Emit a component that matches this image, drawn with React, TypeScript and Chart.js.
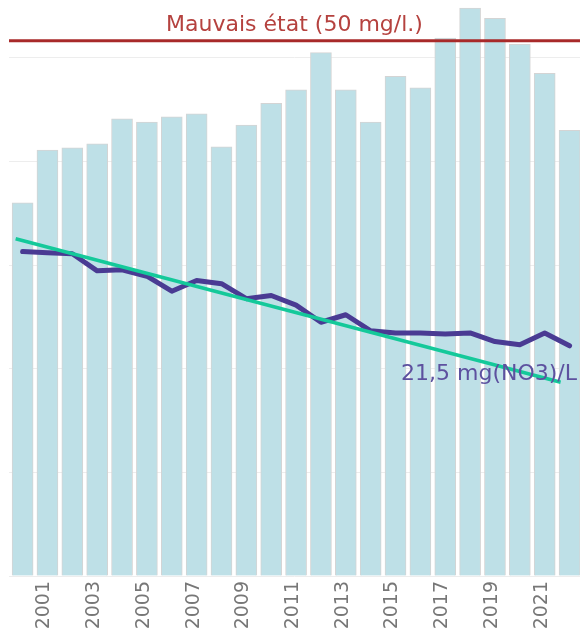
import React, { useEffect, useRef } from "react";
import { Chart, registerables } from "chart.js";

Chart.register(...registerables);

const years = [2000, 2001, 2002, 2003, 2004, 2005, 2006, 2007, 2008, 2009, 2010, 2011, 2012, 2013, 2014, 2015, 2016, 2017, 2018, 2019, 2020, 2021, 2022];
const barValues = [36.0, 41.1, 41.3, 41.7, 44.1, 43.8, 44.3, 44.6, 41.4, 43.5, 45.6, 46.9, 50.5, 46.9, 43.8, 48.2, 47.1, 51.9, 54.8, 53.8, 51.3, 48.5, 43.0];
const nitrateValues = [30.3, 30.2, 30.1, 28.5, 28.6, 28.0, 26.6, 27.6, 27.3, 25.9, 26.2, 25.3, 23.7, 24.4, 22.9, 22.7, 22.7, 22.6, 22.7, 21.9, 21.6, 22.7, 21.5];
const trendYears = [1999.72, 2021.64];
const trendValues = [31.5, 18.1];
const tickYears = [2001, 2003, 2005, 2007, 2009, 2011, 2013, 2015, 2017, 2019, 2021];
const gridTicks = [0, 10, 20, 30, 40, 50];
const thresholdValue = 50;
const thresholdLabel = "Mauvais état (50 mg/l.)";
const lastValueLabel = "21,5 mg(NO3)/L";

const FONT = "'DejaVu Sans', sans-serif";

const annotationPlugin = {
  id: "annotations",
  afterDatasetsDraw(chart: any) {
    const { ctx, chartArea, scales } = chart;
    const yLine = scales.yLine;
    const yPix = yLine.getPixelForValue(thresholdValue);
    ctx.save();
    ctx.strokeStyle = "#a82a2a";
    ctx.lineWidth = 3;
    ctx.beginPath();
    ctx.moveTo(chartArea.left, yPix);
    ctx.lineTo(chartArea.right, yPix);
    ctx.stroke();
    ctx.fillStyle = "#b5423f";
    ctx.font = "22px " + FONT;
    ctx.textAlign = "center";
    ctx.textBaseline = "alphabetic";
    ctx.fillText(thresholdLabel, (chartArea.left + chartArea.right) / 2, yPix - 10);

    const lastPix = yLine.getPixelForValue(nitrateValues[nitrateValues.length - 1]);
    ctx.fillStyle = "#5d519f";
    ctx.font = "22px " + FONT;
    ctx.textAlign = "right";
    ctx.fillText(lastValueLabel, chartArea.right - 3, lastPix + 34);
    ctx.restore();
  },
};

export default function App() {
  const canvasRef = useRef<HTMLCanvasElement | null>(null);

  useEffect(() => {
    if (!canvasRef.current) return;
    const chart = new Chart(canvasRef.current, {
      type: "bar",
      data: {
        datasets: [
          {
            type: "line",
            data: trendYears.map((x, i) => ({ x, y: trendValues[i] })),
            yAxisID: "yLine",
            borderColor: "#14c99a",
            borderWidth: 3.5,
            pointRadius: 0,
            tension: 0,
            order: 0,
          } as any,
          {
            type: "line",
            data: years.map((x, i) => ({ x, y: nitrateValues[i] })),
            yAxisID: "yLine",
            borderColor: "#4a3b93",
            borderWidth: 5,
            pointRadius: 0,
            tension: 0,
            borderCapStyle: "round",
            borderJoinStyle: "round",
            order: 1,
          } as any,
          {
            type: "bar",
            data: years.map((x, i) => ({ x, y: barValues[i] })),
            yAxisID: "yBar",
            backgroundColor: "#bee0e7",
            borderColor: "#d4d4d4",
            borderWidth: 1,
            barThickness: 21,
            order: 2,
          } as any,
        ],
      },
      options: {
        animation: false,
        responsive: false,
        devicePixelRatio: 1,
        layout: { padding: { left: 9, right: 0, top: 0, bottom: 0 } },
        plugins: { legend: { display: false }, tooltip: { enabled: false } },
        scales: {
          x: {
            type: "linear",
            offset: false,
            min: 1999.453,
            max: 2022.42,
            position: "bottom",
            grid: { display: false, drawTicks: false, offset: false },
            border: { display: false },
            ticks: {
              autoSkip: false,
              minRotation: 90,
              maxRotation: 90,
              padding: 5,
              labelOffset: -3,
              color: "#777777",
              font: { family: FONT, size: 19 },
              callback: (v: any) => String(v),
            },
            afterBuildTicks: (s: any) => {
              s.ticks = tickYears.map((v) => ({ value: v }));
            },
            afterFit: (s: any) => {
              s.height = 58;
            },
          },
          yBar: {
            type: "linear",
            position: "left",
            min: 0,
            max: 55.57,
            display: true,
            border: { display: false },
            grid: { color: "#ededed", lineWidth: 1, drawTicks: false },
            ticks: { display: false },
            afterBuildTicks: (s: any) => {
              s.ticks = gridTicks.map((v) => ({ value: v }));
            },
            afterFit: (s: any) => {
              s.width = 0;
            },
          },
          yLine: {
            type: "linear",
            position: "right",
            min: 0,
            max: 53.8,
            display: false,
          },
        },
      } as any,
      plugins: [annotationPlugin],
    });
    return () => chart.destroy();
  }, []);

  return (
    <div style={{ position: "fixed", left: 0, top: 0, width: 580, height: 634, background: "#ffffff" }}>
      <canvas ref={canvasRef} width={580} height={634} style={{ display: "block" }} />
    </div>
  );
}
